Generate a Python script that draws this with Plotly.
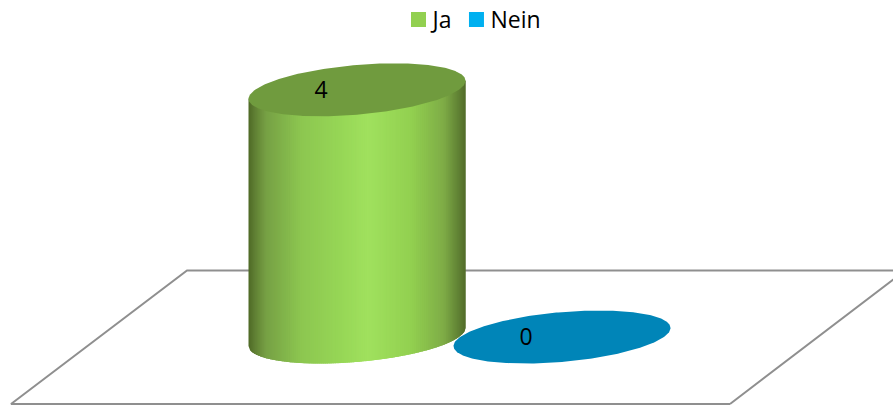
import numpy as np
import plotly.graph_objects as go

categories = ["Ja", "Nein"]
values = [4, 0]
legend_colors = ["#92D050", "#00B0F0"]
top_colors = ["#709B3E", "#0085B8"]

# Axis scale: one category step and one value unit expressed in pixels
W, H = 893, 406
STEP_PX, UNIT_PX = 205.0, 61.8
X0_PX, Y0_PX = 357.0, 337.0
RX_PX, RY_PX = 108.5, 26.5
PHI = np.radians(20)

xr = [-X0_PX / STEP_PX, (W - X0_PX) / STEP_PX]
yr = [-(H - Y0_PX) / UNIT_PX, Y0_PX / UNIT_PX]
rx, ry = RX_PX / STEP_PX, RY_PX / UNIT_PX

def ex(i, t):
    return i + rx * np.cos(t)

def ey(v, t):
    return v + ry * np.sin(t + PHI)

def px(x):
    return (x - X0_PX) / STEP_PX

def py(y):
    return (Y0_PX - y) / UNIT_PX

# side shading: fraction across the cylinder -> colour
shade_pos = [0.0, 0.03, 0.08, 0.24, 0.42, 0.55, 0.75, 0.90, 0.96, 1.0]
shade_rgb = [(78, 104, 38), (96, 128, 52), (118, 160, 68), (140, 198, 80), (150, 214, 86),
             (160, 225, 94), (146, 208, 80), (126, 172, 70), (100, 134, 54), (82, 108, 42)]

floor_x = [px(v) for v in (730, 11, 187, 905, 730)]
floor_y = [py(v) for v in (404, 404, 270.5, 270.5, 404)]

fig = go.Figure()
fig.add_trace(go.Scatter(x=floor_x, y=floor_y, mode="lines", showlegend=False, hoverinfo="skip",
                         line=dict(color="#8F8F8F", width=2)))

t = np.linspace(0, 2 * np.pi, 361)
for i in [1, 0]:
    v = values[i]
    if v > 0:
        n = 110
        fr = np.linspace(0, 1, n + 1)
        for k in range(n):
            a, b = fr[k], min(fr[k + 1] + 0.012, 1.0)
            mid = (fr[k] + fr[k + 1]) / 2
            col = [int(round(np.interp(mid, shade_pos, [c[j] for c in shade_rgb]))) for j in range(3)]
            ts = np.arccos(1 - 2 * np.linspace(a, b, 4))
            xs = i - rx * np.cos(ts)
            ang = np.pi + ts
            lower = ey(0, ang)
            upper = v + ry * np.sin(PHI) * np.cos(ang)  # tilted mid-line of the top ellipse
            sx = np.concatenate([xs, xs[::-1]])
            sy = np.concatenate([lower, upper[::-1]])
            fig.add_trace(go.Scatter(x=sx, y=sy, mode="lines", fill="toself", showlegend=False,
                                     hoverinfo="skip", line=dict(width=0),
                                     fillcolor=f"rgb({col[0]},{col[1]},{col[2]})"))
    fig.add_trace(go.Scatter(x=ex(i, t), y=ey(v, t), mode="lines", fill="toself", showlegend=False,
                             hoverinfo="skip", line=dict(width=0), fillcolor=top_colors[i]))

fig.add_trace(go.Scatter(x=[i - 36 / STEP_PX for i in range(len(categories))],
                         y=[v - 2 / UNIT_PX for v in values], mode="text",
                         text=[str(v) for v in values], textposition="middle center", showlegend=False,
                         hoverinfo="skip", textfont=dict(family="Open Sans", size=23, color="#000000")))

for name, col in zip(categories, legend_colors):
    fig.add_trace(go.Scatter(x=[None], y=[None], mode="markers", name=name,
                             marker=dict(symbol="square", size=15, color=col)))

fig.update_layout(
    width=W, height=H, margin=dict(l=0, r=0, t=0, b=0),
    paper_bgcolor="#FFFFFF", plot_bgcolor="#FFFFFF",
    xaxis=dict(range=xr, visible=False, fixedrange=True),
    yaxis=dict(range=yr, visible=False, fixedrange=True),
    legend=dict(orientation="h", x=398.5 / W, xanchor="left", y=1.0, yanchor="top",
                font=dict(family="Open Sans", size=23, color="#000000"), itemwidth=30,
                bgcolor="rgba(0,0,0,0)"),
)
post = """
var gd=document.getElementById('{plot_id}');
function shift(e,dx,dy){
  var m=/translate\\(([-\\d.]+)[, ]+([-\\d.]+)\\)/.exec(e.getAttribute('transform'));
  if(m){e.setAttribute('transform','translate('+(parseFloat(m[1])+dx)+','+(parseFloat(m[2])+dy)+')');}
}
function nudge(){
  gd.querySelectorAll('.legendtext').forEach(function(e){
    if(!e.dataset.moved){e.dataset.moved='1';e.setAttribute('x',parseFloat(e.getAttribute('x'))-6);}
  });
  gd.querySelectorAll('.legend .traces').forEach(function(e,idx){
    if(!e.dataset.moved){
      e.dataset.moved='1';
      shift(e,idx>0?-8:0,-2);
    }
  });
}
nudge();setTimeout(nudge,0);gd.on('plotly_afterplot',nudge);
document.body.style.margin='0';
"""
fig.write_html("out.html", post_script=post, config=dict(displayModeBar=False))
